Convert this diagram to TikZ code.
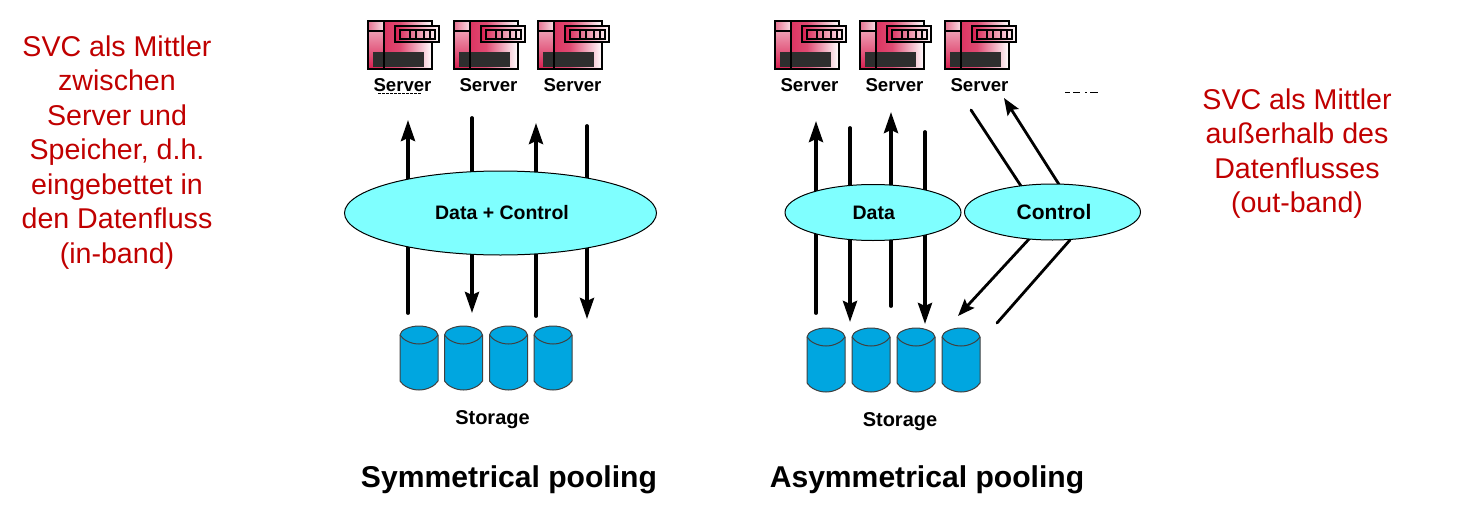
\documentclass[tikz,border=0pt]{standalone}
\usepackage{fontspec}
\setmainfont{Liberation Sans}
\usetikzlibrary{arrows.meta,shapes.geometric}
\definecolor{svcred}{HTML}{C00000}
\definecolor{pool}{HTML}{7FFFFF}
\definecolor{disk}{HTML}{00A6E0}
\definecolor{crim}{HTML}{D81E50}
\tikzset{
  flow/.style={line width=3.8pt,black,line cap=round},
  flowtip/.style={flow,-{Stealth[length=21pt,width=14pt,inset=3pt]}},
  ctrl/.style={line width=2.8pt,black,line cap=round},
  ctrltip/.style={ctrl,-{Stealth[length=17pt,width=13pt,inset=3pt]}},
  pool/.style={ellipse,draw=black,line width=1pt,fill=pool,inner sep=0pt,font=\fontsize{19.5}{24}\selectfont\bfseries},
  note/.style={text=svcred,align=center,font=\fontsize{28.6}{34.5}\selectfont},
  lab/.style={font=\fontsize{18.6}{22}\selectfont\bfseries},
  stor/.style={font=\fontsize{20}{24}\selectfont\bfseries},
  titl/.style={font=\fontsize{30.1}{34}\selectfont\bfseries},
  servericon/.pic={
    \fill[left color=crim,right color=white,middle color=crim!80!white] (0,0) rectangle (64,48);
    \fill[top color=crim!30!white,bottom color=crim] (1,1) rectangle (16,48);
    \fill[left color=crim!60!white,right color=crim!15!white] (1,1) rectangle (16,9);
    \fill[black!82] (5,31) rectangle (56,46);
    \draw[line width=2.4pt] (0,0) rectangle (64,48);
    \draw[line width=2.4pt] (16,0) -- (16,48);
    \draw[line width=2pt] (1,10) -- (16,10);
    \fill[left color=crim,right color=white] (27,5) rectangle (71,21);
    \draw[line width=2.6pt] (27,5) rectangle (71,21);
    \draw[line width=2.2pt] (32,9) rectangle (67,18);
    \foreach \q in {42,48,56,62} \draw[line width=1.6pt] (\q,9) -- (\q,18);
  },
  diskicon/.pic={
    \path[fill=disk,draw=black!75,line width=1pt]
      (-19,9) -- (-19,55) .. controls (-16,60) and (-8,64) .. (0,64)
      .. controls (8,64) and (16,60) .. (19,55) -- (19,9)
      .. controls (19,4) and (9,0) .. (0,0) .. controls (-9,0) and (-19,4) .. (-19,9) -- cycle;
    \draw[black!75,line width=1pt] (-19,9) .. controls (-16,14) and (-8,18) .. (0,18)
      .. controls (8,18) and (16,14) .. (19,9);
  }
}
\begin{document}
\begin{tikzpicture}[x=1pt,y=-1pt]
\useasboundingbox (0,0) rectangle (1478,522);
% red notes
\node[note] (noteL) at (117,152.5) {SVC als Mittler\\zwischen\\Server und\\Speicher, d.h.\\eingebettet in\\den Datenfluss\\(in-band)};
\node[note] (noteR) at (1297,153.5) {SVC als Mittler\\außerhalb des\\Datenflusses\\(out-band)};
% servers
\foreach \n/\x in {a/368,b/454,c/538,d/775,e/860,f/945}{
  \pic at (\x,21) {servericon};
  \node[lab] (srv\n) at (\x+34.5,85) {Server};
}
\draw[line width=.8pt,dash pattern=on 3pt off 1pt] (378,93) -- (422,93);
\draw[line width=1pt,dash pattern=on 5pt off 3pt on 7pt off 5pt on 2pt off 3pt on 8pt] (1065,92) -- (1098,92);
% arrow ends
\foreach \n/\x/\y in {a1/408/313,a2/408/120,b1/472/118,b2/472/313,c1/536/316,c2/536/123,d1/587/126,d2/587/319,
  e1/816/313,e2/816/121,f1/850/128,f2/850/322,g1/891/306,g2/891/112,h1/925/132,h2/925/324,
  i1/971/110,i2/1021/186,j1/1060/186,j2/1004/98,k1/1030/238,k2/958/316,l1/1070/240,l2/997/323}
  \coordinate (\n) at (\x,\y);
\draw[flowtip] (a1) -- (a2);
\draw[flowtip] (b1) -- (b2);
\draw[flowtip] (c1) -- (c2);
\draw[flowtip] (d1) -- (d2);
\draw[flowtip] (e1) -- (e2);
\draw[flowtip] (f1) -- (f2);
\draw[flowtip] (g1) -- (g2);
\draw[flowtip] (h1) -- (h2);
\draw[ctrl] (i1) -- (i2);
\draw[ctrltip] (j1) -- (j2);
\draw[ctrltip] (k1) -- (k2);
\draw[ctrl] (l1) -- (l2);
% pools
\node[pool,minimum width=312pt,minimum height=84pt] (dc) at (500.5,213) {\hspace*{3pt}Data + Control};
\node[pool,minimum width=176pt,minimum height=56pt] (data) at (873,212.5) {\hspace*{1.5pt}Data};
\node[pool,minimum width=176pt,minimum height=56pt,font=\fontsize{21}{24}\selectfont\bfseries] (control) at (1052.5,212) {\hspace*{3pt}Control};
% disks
\foreach \x in {419,463.5,508.5,553} \pic at (\x,326) {diskicon};
\foreach \x in {826,871,916,961} \pic at (\x,328) {diskicon};
\node[stor] (st1) at (492.5,419.5) {Storage};
\node[stor] (st2) at (900,421.5) {Storage};
\node[titl] (t1) at (509,479.5) {Symmetrical pooling};
\node[titl] (t2) at (927,479.5) {Asymmetrical pooling};
\end{tikzpicture}
\end{document}
